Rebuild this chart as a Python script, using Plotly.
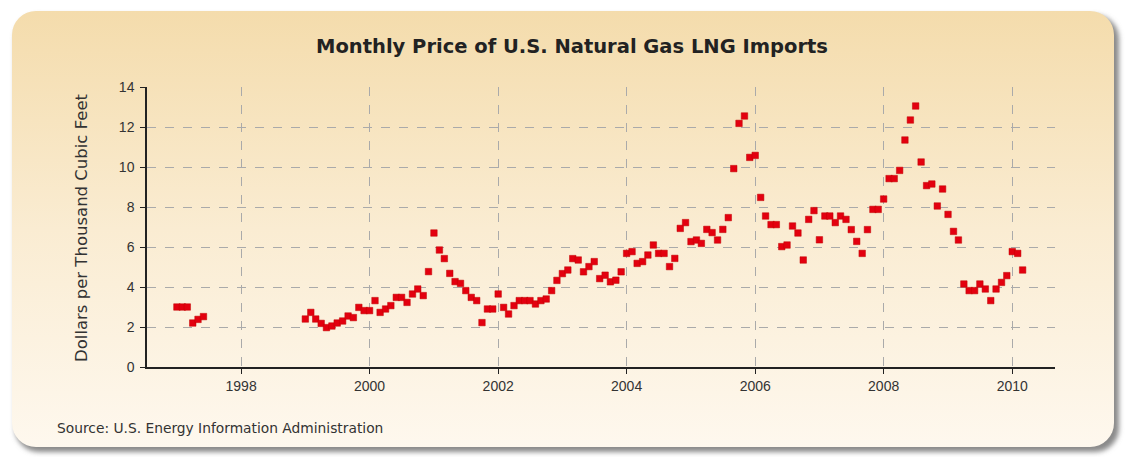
import base64
import pandas as pd
import plotly.graph_objects as go

# ---- data (dollars per thousand cubic feet) ----
seg1_start = "1997-01-01"
seg1_values = [3.0, 3.0, 3.0, 2.2, 2.38, 2.52]

seg2_start = "1999-01-01"
v1999 = [2.4, 2.73, 2.4, 2.18, 1.97, 2.05, 2.2, 2.3, 2.55, 2.47, 2.98, 2.82]
v2000 = [2.82, 3.32, 2.73, 2.9, 3.07, 3.48, 3.48, 3.23, 3.65, 3.9, 3.57, 4.77]
v2001 = [6.7, 5.85, 5.42, 4.68, 4.27, 4.18, 3.82, 3.48, 3.32, 2.22, 2.9, 2.9]
v2002 = [3.65, 2.98, 2.65, 3.07, 3.32, 3.32, 3.32, 3.15, 3.32, 3.4, 3.82, 4.33]
v2003 = [4.67, 4.85, 5.42, 5.35, 4.76, 5.02, 5.27, 4.42, 4.59, 4.26, 4.34, 4.76]
v2004 = [5.68, 5.77, 5.18, 5.27, 5.6, 6.1, 5.68, 5.68, 5.02, 5.43, 6.93, 7.22]
v2005 = [6.27, 6.35, 6.18, 6.88, 6.72, 6.35, 6.88, 7.47, 9.92, 12.18, 12.55, 10.48]
v2006 = [10.58, 8.48, 7.55, 7.12, 7.12, 6.02, 6.1, 7.05, 6.7, 5.35, 7.38, 7.82]
v2007 = [6.36, 7.55, 7.55, 7.22, 7.55, 7.38, 6.87, 6.28, 5.68, 6.87, 7.88, 7.88]
v2008 = [8.4, 9.42, 9.42, 9.83, 11.35, 12.35, 13.05, 10.25, 9.07, 9.15, 8.05, 8.9]
v2009 = [7.63, 6.78, 6.35, 4.15, 3.82, 3.82, 4.15, 3.9, 3.32, 3.9, 4.23, 4.57]
v2010 = [5.77, 5.68, 4.85]
seg2_values = v1999 + v2000 + v2001 + v2002 + v2003 + v2004 + v2005 + v2006 + v2007 + v2008 + v2009 + v2010

y_ticks = [0, 2, 4, 6, 8, 10, 12, 14]

dates = list(pd.date_range(seg1_start, periods=len(seg1_values), freq="MS")) + \
        list(pd.date_range(seg2_start, periods=len(seg2_values), freq="MS"))
values = seg1_values + seg2_values

W, H = 1126, 457
L, R, T, B = 147, 1055, 87, 367

# background card (decoration) as svg
svg = f'''<svg xmlns="http://www.w3.org/2000/svg" width="{W}" height="{H}" viewBox="0 0 {W} {H}">
<defs>
<linearGradient id="g" x1="0" y1="0" x2="0" y2="1">
<stop offset="0" stop-color="#F4DCAC"/>
<stop offset="0.5" stop-color="#FAECD2"/>
<stop offset="1" stop-color="#FEF8EE"/>
</linearGradient>
<filter id="s" x="-5%" y="-5%" width="110%" height="115%">
<feGaussianBlur stdDeviation="2.5"/>
</filter>
</defs>
<rect x="15" y="15" width="1104" height="437" rx="24" ry="24" fill="#8a8a8a" filter="url(#s)"/>
<rect x="12" y="11" width="1102" height="436" rx="24" ry="24" fill="url(#g)"/>
</svg>'''
src = "data:image/svg+xml;base64," + base64.b64encode(svg.encode()).decode()

pw, ph = R - L, B - T

fig = go.Figure()
fig.add_trace(go.Scatter(
    x=dates, y=values, mode="markers",
    marker=dict(symbol="square", size=6.5, color="#E3000F",
                line=dict(color="#C00000", width=0.5)),
    hoverinfo="x+y", showlegend=False,
))

fig.update_layout(
    width=W, height=H,
    margin=dict(l=L, r=W - R, t=T, b=H - B),
    paper_bgcolor="white",
    plot_bgcolor="white",
    font=dict(family="Liberation Sans, Arial, sans-serif", size=13, color="#333333"),
    title=dict(text="<b>Monthly Price of U.S. Natural Gas LNG Imports</b>",
               x=572 / W, xanchor="center", y=1 - 46 / H, yanchor="middle",
               yref="container", xref="container",
               font=dict(size=19.5, color="#222222",
                         family="DejaVu Sans, Verdana, sans-serif")),
    xaxis=dict(
        type="date",
        range=["1996-07-15", "2010-09-01"],
        tick0="1998-01-01", dtick="M24", tickformat="%Y",
        showgrid=True, gridcolor="#AAAAAA", griddash="dash", gridwidth=1,
        showline=True, linecolor="#222222", linewidth=1.5,
        ticks="outside", ticklen=5, tickcolor="#222222",
        zeroline=False,
        tickfont=dict(size=14, color="#333333"),
    ),
    yaxis=dict(
        range=[0, 14], tickvals=y_ticks,
        showgrid=True, gridcolor="#AAAAAA", griddash="dash", gridwidth=1,
        showline=True, linecolor="#222222", linewidth=1.5,
        ticks="outside", ticklen=5, tickcolor="#222222",
        zeroline=False, ticklabelstandoff=3,
        tickfont=dict(size=14, color="#333333"),
    ),
    images=[dict(source=src, xref="paper", yref="paper",
                 x=-L / pw, y=B / ph, sizex=W / pw, sizey=H / ph,
                 xanchor="left", yanchor="top", sizing="stretch", layer="below")],
    annotations=[
        dict(text="Dollars per Thousand Cubic Feet", textangle=-90,
             xref="paper", yref="paper", x=(81 - L) / pw, y=(B - 228) / ph,
             xanchor="center", yanchor="middle", showarrow=False,
             font=dict(size=16.5, color="#333333", family="DejaVu Sans, Verdana, sans-serif")),
        dict(text="Source: U.S. Energy Information Administration",
             xref="paper", yref="paper", x=(55 - L) / pw, y=(B - 428) / ph,
             xanchor="left", yanchor="middle", showarrow=False,
             font=dict(size=13.8, color="#333333", family="DejaVu Sans, Verdana, sans-serif")),
    ],
)

fig.write_html("out.html", config={"displayModeBar": False},
               post_script="document.body.style.margin='0';document.body.style.overflow='hidden';")
